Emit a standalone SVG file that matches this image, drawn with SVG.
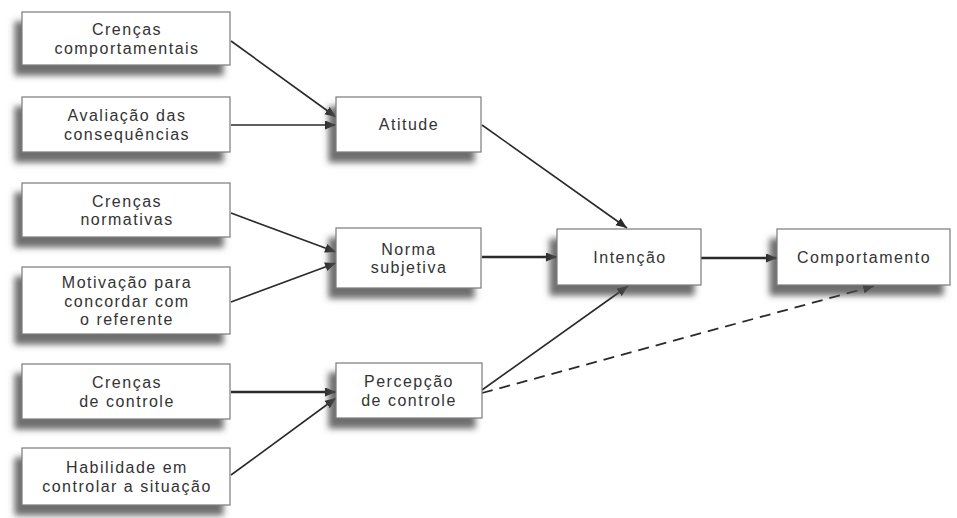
<svg xmlns="http://www.w3.org/2000/svg" width="957" height="518" viewBox="0 0 957 518">
<style>
.box{fill:#fff;stroke:#7a7a7a;stroke-width:1.2;filter:url(#sh)}
.t{font-family:"Liberation Sans",Arial,sans-serif;font-size:16px;letter-spacing:1.5px;fill:#333;text-anchor:middle}
.c{stroke:#2a2a2a;stroke-width:1.6;fill:none;marker-end:url(#ah)}
.thick{stroke-width:2.6}
.dash{stroke-dasharray:11 7;stroke-width:1.8}
</style>
<defs>
<filter id="sh" x="-20%" y="-30%" width="140%" height="180%">
<feGaussianBlur in="SourceAlpha" stdDeviation="3"/>
<feOffset dx="-7" dy="10" result="b"/>
<feFlood flood-color="#4a4a4a" flood-opacity="0.8"/>
<feComposite in2="b" operator="in"/>
<feMerge><feMergeNode/><feMergeNode in="SourceGraphic"/></feMerge>
</filter>
<marker id="ah" markerUnits="userSpaceOnUse" markerWidth="12" markerHeight="10" refX="11" refY="4.5" orient="auto">
<path d="M0,0 L11,4.5 L0,9 z" fill="#2a2a2a"/>
</marker>
</defs>
<rect width="957" height="518" fill="#fff"/>
<g id="connectors">
<line class="c" x1="231" y1="41" x2="336" y2="117"/>
<line class="c" x1="231" y1="125" x2="336" y2="125"/>
<line class="c" x1="231" y1="213" x2="336" y2="252"/>
<line class="c" x1="231" y1="302" x2="336" y2="263"/>
<line class="c thick" x1="231" y1="392" x2="336" y2="392"/>
<line class="c" x1="231" y1="475" x2="336" y2="398"/>
<line class="c" x1="482" y1="125" x2="627" y2="228"/>
<line class="c thick" x1="482" y1="257" x2="557" y2="257"/>
<line class="c" x1="482" y1="390" x2="628" y2="286"/>
<line class="c dash" x1="482" y1="393" x2="874" y2="286"/>
<line class="c thick" x1="701" y1="258" x2="777" y2="258"/>
</g>
<g id="crencas-comportamentais">
<rect class="box" x="22" y="12" width="208" height="53"/>
<text class="t" x="127" y="35">Crenças</text>
<text class="t" x="127" y="53.5">comportamentais</text>
</g>
<g id="avaliacao-consequencias">
<rect class="box" x="22" y="97" width="208" height="55"/>
<text class="t" x="127" y="121">Avaliação das</text>
<text class="t" x="127" y="139.5">consequências</text>
</g>
<g id="crencas-normativas">
<rect class="box" x="22" y="183" width="208" height="54"/>
<text class="t" x="127" y="206.5">Crenças</text>
<text class="t" x="127" y="225">normativas</text>
</g>
<g id="motivacao">
<rect class="box" x="22" y="267" width="208" height="67"/>
<text class="t" x="127" y="288">Motivação para</text>
<text class="t" x="127" y="306.5">concordar com</text>
<text class="t" x="127" y="325">o referente</text>
</g>
<g id="crencas-controle">
<rect class="box" x="22" y="364" width="208" height="55"/>
<text class="t" x="127" y="388">Crenças</text>
<text class="t" x="127" y="406.5">de controle</text>
</g>
<g id="habilidade">
<rect class="box" x="22" y="448" width="208" height="57"/>
<text class="t" x="127" y="473">Habilidade em</text>
<text class="t" x="127" y="491.5">controlar a situação</text>
</g>
<g id="atitude">
<rect class="box" x="336" y="97" width="145" height="55"/>
<text class="t" x="409" y="130">Atitude</text>
</g>
<g id="norma-subjetiva">
<rect class="box" x="336" y="228" width="145" height="60"/>
<text class="t" x="409" y="254.5">Norma</text>
<text class="t" x="409" y="273">subjetiva</text>
</g>
<g id="percepcao-controle">
<rect class="box" x="336" y="363" width="146" height="55"/>
<text class="t" x="409" y="387">Percepção</text>
<text class="t" x="409" y="405.5">de controle</text>
</g>
<g id="intencao">
<rect class="box" x="557" y="229" width="144" height="56"/>
<text class="t" x="630" y="263">Intenção</text>
</g>
<g id="comportamento">
<rect class="box" x="777" y="229" width="173" height="56"/>
<text class="t" x="864" y="263">Comportamento</text>
</g>
</svg>
